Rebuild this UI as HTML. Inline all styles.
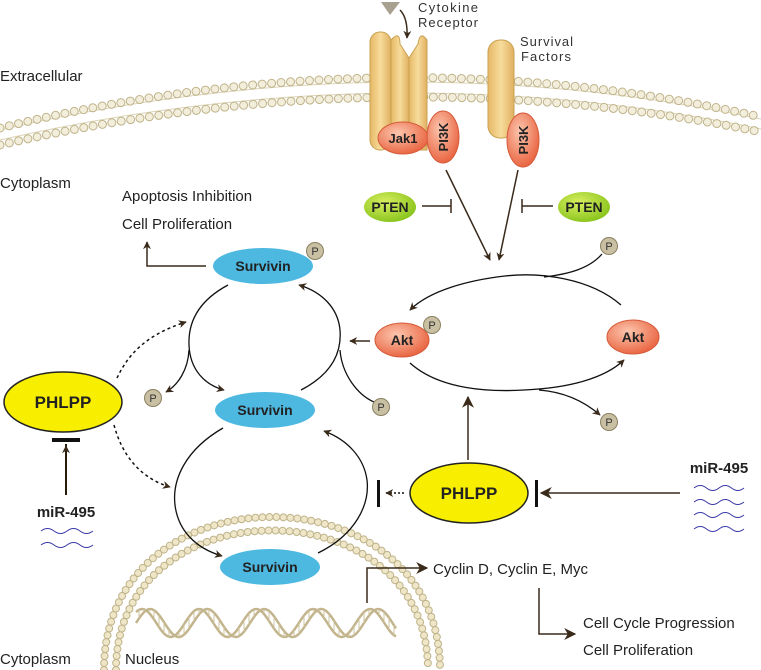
<!DOCTYPE html>
<html><head><meta charset="utf-8"><style>
html,body{margin:0;padding:0;background:#fff}
svg{display:block}
text{font-family:"Liberation Sans",sans-serif}
.lbl{font-size:15px;fill:#222}
.bold{font-weight:bold;fill:#222}
.arr{fill:none;stroke:#3a2a1a;stroke-width:1.5}
.thin{fill:none;stroke:#111;stroke-width:1.3}
</style></head><body>
<svg width="761" height="670" viewBox="0 0 761 670" xmlns="http://www.w3.org/2000/svg">
<defs>
<marker id="ah" viewBox="0 0 10 10" refX="9" refY="5" markerWidth="8" markerHeight="8" orient="auto-start-reverse" markerUnits="userSpaceOnUse"><path d="M0,0 L10,5 L0,10 L3,5 z" fill="#3a2a1a"/></marker>
<marker id="ahb" viewBox="0 0 10 10" refX="9" refY="5" markerWidth="12" markerHeight="12" orient="auto" markerUnits="userSpaceOnUse"><path d="M0,0 L10,5 L0,10 L3,5 z" fill="#3a2a1a"/></marker>
<radialGradient id="gRed" cx="40%" cy="35%" r="70%"><stop offset="0" stop-color="#fcc6ae"/><stop offset="1" stop-color="#e8603c"/></radialGradient>
<radialGradient id="gGreen" cx="40%" cy="35%" r="70%"><stop offset="0" stop-color="#d8ef60"/><stop offset="1" stop-color="#86c21a"/></radialGradient>
<linearGradient id="gRec" x1="0" x2="1"><stop offset="0" stop-color="#e6b866"/><stop offset=".5" stop-color="#f7dc9c"/><stop offset="1" stop-color="#e0b060"/></linearGradient>
</defs>

<!-- cell membrane -->
<g>
<path d="M0,130 Q388,40 761,119" fill="none" stroke="#ddd3b4" stroke-width="1"/>
<path d="M0,140 Q388,52 761,129" fill="none" stroke="#ddd3b4" stroke-width="1"/>
<path d="M0,128 Q388,33 761,117" fill="none" stroke="#bfb38a" stroke-width="9" stroke-dasharray="0 9.5" stroke-linecap="round"/>
<path d="M0,128 Q388,33 761,117" fill="none" stroke="#f3eedb" stroke-width="7" stroke-dasharray="0 9.5" stroke-linecap="round"/>
<path d="M0,145 Q388,56 761,132" fill="none" stroke="#bfb38a" stroke-width="9" stroke-dasharray="0 9.5" stroke-linecap="round"/>
<path d="M0,145 Q388,56 761,132" fill="none" stroke="#f3eedb" stroke-width="7" stroke-dasharray="0 9.5" stroke-linecap="round"/>
</g>

<!-- nucleus membrane -->
<g>
<path d="M104,670 C104,466 440,466 440,670" fill="none" stroke="#bfb38a" stroke-width="8" stroke-dasharray="0 7" stroke-linecap="round"/>
<path d="M104,670 C104,466 440,466 440,670" fill="none" stroke="#efe6c8" stroke-width="6" stroke-dasharray="0 7" stroke-linecap="round"/>
<path d="M116,670 C116,484 428,484 428,670" fill="none" stroke="#bfb38a" stroke-width="8" stroke-dasharray="0 7" stroke-linecap="round"/>
<path d="M116,670 C116,484 428,484 428,670" fill="none" stroke="#efe6c8" stroke-width="6" stroke-dasharray="0 7" stroke-linecap="round"/>
</g>

<!-- DNA -->
<g id="dna"></g>

<!-- receptors -->
<g>
<rect x="370" y="32" width="21" height="118" rx="10" fill="url(#gRec)" stroke="#c9a050"/>
<path d="M391,40 Q400,30 400,44 L409,58 L409,150 L391,150 z" fill="url(#gRec)" stroke="#c9a050"/>
<path d="M409,58 L418,44 Q420,30 427,40 L427,150 L409,150 z" fill="url(#gRec)" stroke="#c9a050"/>
</g>
<rect x="488" y="40" width="26" height="98" rx="12" fill="url(#gRec)" stroke="#c9a050"/>
<path d="M381,2 L400,2 L390,15 z" fill="#a9a190"/>
<path class="arr" d="M400,10 Q408,18 407,38" marker-end="url(#ah)"/>
<text x="418" y="12" font-size="13" fill="#333" textLength="60">Cytokine</text>
<text x="418" y="27" font-size="13" fill="#333" textLength="60">Receptor</text>
<text x="520" y="46" font-size="13" fill="#333" textLength="53">Survival</text>
<text x="521" y="61" font-size="13" fill="#333" textLength="50">Factors</text>

<g><ellipse cx="403" cy="138" rx="25" ry="16" fill="url(#gRed)" stroke="#d45a3a"/><text x="403" y="143" text-anchor="middle" font-size="13" class="bold">Jak1</text></g>
<g><ellipse cx="443" cy="137" rx="16" ry="26" fill="url(#gRed)" stroke="#d45a3a"/><text transform="translate(448,137) rotate(-90)" text-anchor="middle" font-size="13" class="bold">PI3K</text></g>
<g><ellipse cx="523" cy="140" rx="16" ry="27" fill="url(#gRed)" stroke="#d45a3a"/><text transform="translate(528,140) rotate(-90)" text-anchor="middle" font-size="13" class="bold">PI3K</text></g>

<text class="lbl" x="0" y="81" font-size="16">Extracellular</text>
<text class="lbl" x="0" y="188" font-size="16">Cytoplasm</text>
<text class="lbl" x="122" y="201" font-size="16">Apoptosis Inhibition</text>
<text class="lbl" x="122" y="229" font-size="16">Cell Proliferation</text>

<!-- PTEN -->
<g><ellipse cx="390" cy="207" rx="26" ry="15" fill="url(#gGreen)"/><text x="390" y="212" text-anchor="middle" font-size="14" class="bold">PTEN</text></g>
<g><ellipse cx="584" cy="207" rx="26" ry="15" fill="url(#gGreen)"/><text x="584" y="212" text-anchor="middle" font-size="14" class="bold">PTEN</text></g>
<path d="M422,206 H451 M451,199 V213" stroke="#3a2a1a" stroke-width="1.5" fill="none"/>
<path d="M553,206 H522 M522,199 V213" stroke="#3a2a1a" stroke-width="1.5" fill="none"/>
<path class="arr" d="M446,170 L490,260" marker-end="url(#ah)"/>
<path class="arr" d="M518,170 L499,260" marker-end="url(#ah)"/>

<!-- Akt cycle -->
<path class="thin" d="M621,305 C590,278 540,272 505,276 C470,280 430,290 410,310" marker-end="url(#ah)"/>
<path class="thin" d="M602,254 C590,268 570,274 544,277"/>
<path class="thin" d="M410,363 C440,390 490,392 524,390 C570,388 605,378 624,360" marker-end="url(#ah)"/>
<path class="thin" d="M539,390 C565,392 585,402 600,415" marker-end="url(#ah)"/>
<g><ellipse cx="402" cy="340" rx="27" ry="17" fill="url(#gRed)" stroke="#d45a3a"/><text x="402" y="345" text-anchor="middle" font-size="14" class="bold">Akt</text></g>
<g><ellipse cx="633" cy="337" rx="26" ry="17" fill="url(#gRed)" stroke="#d45a3a"/><text x="633" y="342" text-anchor="middle" font-size="14" class="bold">Akt</text></g>
<path class="arr" d="M370,341 L350,341" marker-end="url(#ah)" stroke-width="2"/>

<!-- upper survivin circle -->
<path class="thin" d="M228,285 C200,300 188,320 189,345 C190,370 205,385 224,390" marker-end="url(#ah)"/>
<path class="thin" d="M189,350 C188,370 178,385 166,392" marker-end="url(#ah)"/>
<path class="thin" d="M301,390 C330,375 342,355 340,330 C338,308 322,292 299,285" marker-end="url(#ah)"/>
<path class="thin" d="M340,350 C342,375 358,395 374,402"/>
<path class="arr" d="M206,266 H147 V242" marker-end="url(#ah)" stroke-width="2"/>

<!-- lower survivin circle -->
<path class="thin" d="M223,428 C185,450 172,480 175,505 C178,530 195,548 222,556" marker-end="url(#ah)"/>
<path class="thin" d="M318,553 C355,535 370,505 367,480 C364,458 348,440 324,431" marker-end="url(#ah)"/>

<!-- survivins -->
<g><ellipse cx="263" cy="266" rx="50" ry="18" fill="#4db8e0"/><text x="263" y="271" text-anchor="middle" font-size="14" class="bold">Survivin</text></g>
<g><ellipse cx="265" cy="410" rx="50" ry="18" fill="#4db8e0"/><text x="265" y="415" text-anchor="middle" font-size="14" class="bold">Survivin</text></g>
<g><ellipse cx="270" cy="567" rx="50" ry="18" fill="#4db8e0"/><text x="270" y="572" text-anchor="middle" font-size="14" class="bold">Survivin</text></g>

<!-- phosphate groups -->
<g id="phos"></g>

<!-- PHLPP left -->
<path d="M117,378 C128,355 145,335 186,322" fill="none" stroke="#111" stroke-width="1.5" stroke-dasharray="3 3" marker-end="url(#ah)"/>
<path d="M114,425 C122,455 140,478 170,487" fill="none" stroke="#111" stroke-width="1.5" stroke-dasharray="3 3" marker-end="url(#ah)"/>
<g><ellipse cx="63" cy="402" rx="59" ry="30" fill="#f7ee00" stroke="#222" stroke-width="1.5"/><text x="63" y="408" text-anchor="middle" font-size="17" class="bold">PHLPP</text></g>
<path d="M66,495 V444 M52,440 H80" stroke="#2a1a0a" stroke-width="2" fill="none"/>
<path d="M66,495 V446" stroke="#2a1a0a" stroke-width="1.5" marker-end="url(#ah)"/>
<rect x="52" y="438" width="28" height="4" fill="#111"/>
<text x="66" y="517" text-anchor="middle" font-size="15" class="bold">miR-495</text>
<g fill="none" stroke="#3a3aa8" stroke-width="1">
<path d="M41,531 q6.5,-5 13,0 t13,0 t13,0 t13,0"/><path d="M41,545 q6.5,-5 13,0 t13,0 t13,0 t13,0"/></g>

<!-- PHLPP right -->
<path class="arr" d="M468,460 V397" marker-end="url(#ahb)" stroke-width="2"/>
<g><ellipse cx="469" cy="493" rx="59" ry="30" fill="#f7ee00" stroke="#222" stroke-width="1.5"/><text x="469" y="499" text-anchor="middle" font-size="17" class="bold">PHLPP</text></g>
<path d="M404,493 H386" stroke="#111" stroke-width="1.5" stroke-dasharray="2 2" marker-end="url(#ah)" fill="none"/>
<rect x="377" y="480" width="3" height="27" fill="#111"/>
<path class="arr" d="M680,493 H541" marker-end="url(#ahb)" stroke-width="2"/>
<rect x="535" y="480" width="3" height="27" fill="#111"/>
<text x="719" y="473" text-anchor="middle" font-size="15" class="bold">miR-495</text>
<g fill="none" stroke="#3a3aa8" stroke-width="1">
<path d="M694,488 q6.25,-5 12.5,0 t12.5,0 t12.5,0 t12.5,0"/><path d="M694,502 q6.25,-5 12.5,0 t12.5,0 t12.5,0 t12.5,0"/><path d="M694,515 q6.25,-5 12.5,0 t12.5,0 t12.5,0 t12.5,0"/><path d="M694,529 q6.25,-5 12.5,0 t12.5,0 t12.5,0 t12.5,0"/></g>

<!-- transcription -->
<path class="arr" d="M367,603 V568 H427" marker-end="url(#ahb)" stroke-width="2"/>
<text class="lbl" x="433" y="574" font-size="16">Cyclin D, Cyclin E, Myc</text>
<path class="arr" d="M539,588 V634 H575" marker-end="url(#ahb)" stroke-width="2"/>
<text class="lbl" x="583" y="628" font-size="16">Cell Cycle Progression</text>
<text class="lbl" x="583" y="655" font-size="16">Cell Proliferation</text>
<text class="lbl" x="0" y="664" font-size="17">Cytoplasm</text>
<text class="lbl" x="125" y="664" font-size="17">Nucleus</text>
</svg>
<script>
var NS="http://www.w3.org/2000/svg";
var phosX=[315,432,609,609,153,381];
var phosY=[251,325,246,422,398,407];
var pg=document.getElementById('phos');
for(var i=0;i<phosX.length;i++){
 var g=document.createElementNS(NS,'g');
 
 
 var c=document.createElementNS(NS,'circle');
 c.setAttribute('cx',phosX[i]);c.setAttribute('cy',phosY[i]);c.setAttribute('r',8.5);
 c.setAttribute('fill','#c9bfa2');c.setAttribute('stroke','#8a8060');
 var t=document.createElementNS(NS,'text');
 t.setAttribute('x',phosX[i]);t.setAttribute('y',phosY[i]+4);t.setAttribute('text-anchor','middle');
 t.setAttribute('font-size','11');t.setAttribute('fill','#333');t.textContent='P';
 g.appendChild(c);g.appendChild(t);pg.appendChild(g);
}
var dg=document.getElementById('dna');
var x0=136,x1=396,yc=623,A=14,per=57;
function strand(ph){var d='';for(var x=x0;x<=x1;x+=2){var y=yc-A*Math.sin((x-x0)/per*2*Math.PI+ph);d+=(x==x0?'M':'L')+x+','+y.toFixed(1);}return d;}
[0,0.9].forEach(function(ph){var p=document.createElementNS(NS,'path');
 
 
 p.setAttribute('d',strand(ph));p.setAttribute('fill','none');p.setAttribute('stroke','#c2b48c');p.setAttribute('stroke-width','2.5');dg.appendChild(p);});
for(var x=x0+3;x<x1;x+=5){var ya=yc-A*Math.sin((x-x0)/per*2*Math.PI),yb=yc-A*Math.sin((x-x0)/per*2*Math.PI+0.9);
 var l=document.createElementNS(NS,'line');
 
 
 l.setAttribute('x1',x);l.setAttribute('x2',x);l.setAttribute('y1',ya);l.setAttribute('y2',yb);l.setAttribute('stroke','#cfc3a0');l.setAttribute('stroke-width','1');dg.appendChild(l);}
</script>
</body></html>
